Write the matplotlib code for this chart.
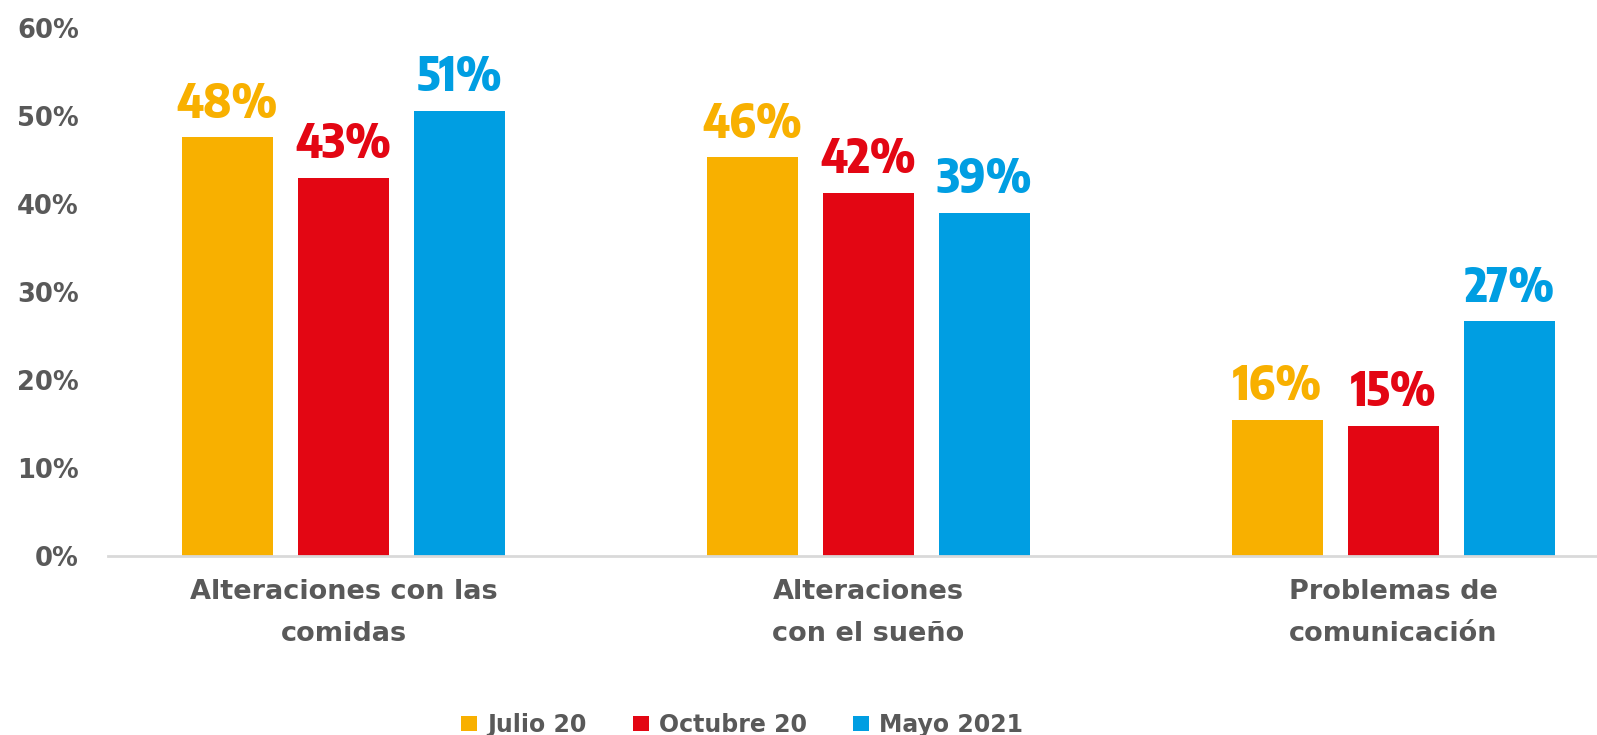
import matplotlib
matplotlib.use("Agg")
import matplotlib.pyplot as plt
from matplotlib.patches import Patch
from matplotlib.transforms import blended_transform_factory
import numpy as np

categories = ["Alteraciones con las\ncomidas", "Alteraciones\ncon el sueño", "Problemas de\ncomunicación"]
series_names = ["Julio 20", "Octubre 20", "Mayo 2021"]
julio_20 = [47.6, 45.3, 15.5]
octubre_20 = [43.0, 41.3, 14.8]
mayo_2021 = [50.6, 39.0, 26.7]
julio_labels = ["48%", "46%", "16%"]
octubre_labels = ["43%", "42%", "15%"]
mayo_labels = ["51%", "39%", "27%"]
yticks = [0, 10, 20, 30, 40, 50, 60]
ytick_labels = ["0%", "10%", "20%", "30%", "40%", "50%", "60%"]

colors = ["#F8B000", "#E30613", "#009EE2"]
grey = "#595959"

W, H = 1597, 735
fig = plt.figure(figsize=(W / 100, H / 100), dpi=100)
ax = fig.add_axes([108 / W, (H - 556) / H, 1 - 108 / W, (556 - 28) / H])

x = np.arange(len(categories))
bar_w = 0.173
offset = 0.221
series = [julio_20, octubre_20, mayo_2021]
labels = [julio_labels, octubre_labels, mayo_labels]
label_font = ["Encode Sans Condensed", "DejaVu Sans"]
for i, (vals, labs, c) in enumerate(zip(series, labels, colors)):
    pos = x + (i - 1) * offset
    ax.bar(pos, vals, width=bar_w, color=c, zorder=2)
    for p, v, t in zip(pos, vals, labs):
        ax.annotate(t, (p, v), xytext=(0, 14), textcoords="offset points",
                    ha="center", va="baseline", color=c, fontsize=34,
                    fontweight=800, family=label_font)

ax.set_ylim(0, 60)
ax.set_xlim((108 - 343.5) / 525, (1597 - 343.5) / 525)
ax.set_yticks(yticks)
ax.set_yticklabels(ytick_labels)
ax.tick_params(axis="y", length=0, pad=21, labelsize=18.5, labelcolor=grey)
for t in ax.get_yticklabels():
    t.set_fontweight("bold")

ax.set_xticks([])
trans = blended_transform_factory(ax.transData, fig.transFigure)
for xi, cat in zip(x, categories):
    ax.text(xi, (H - 579) / H, cat, transform=trans, ha="center", va="top",
            fontsize=19.5, fontweight="bold", color=grey, linespacing=1.8)

for s in ["top", "right", "left"]:
    ax.spines[s].set_visible(False)
ax.spines["bottom"].set_color("#D9D9D9")
ax.spines["bottom"].set_linewidth(2)

handles = [Patch(facecolor=c, edgecolor="none") for c in colors]
leg = fig.legend(handles, series_names, loc="center", bbox_to_anchor=(742 / W, 0.014),
                 ncol=3, frameon=False, handlelength=0.68, handleheight=0.6,
                 handletextpad=0.42, columnspacing=1.95, borderpad=0,
                 prop={"size": 17, "weight": "bold"})
for t in leg.get_texts():
    t.set_color(grey)

fig.savefig("out.png", dpi=100)
